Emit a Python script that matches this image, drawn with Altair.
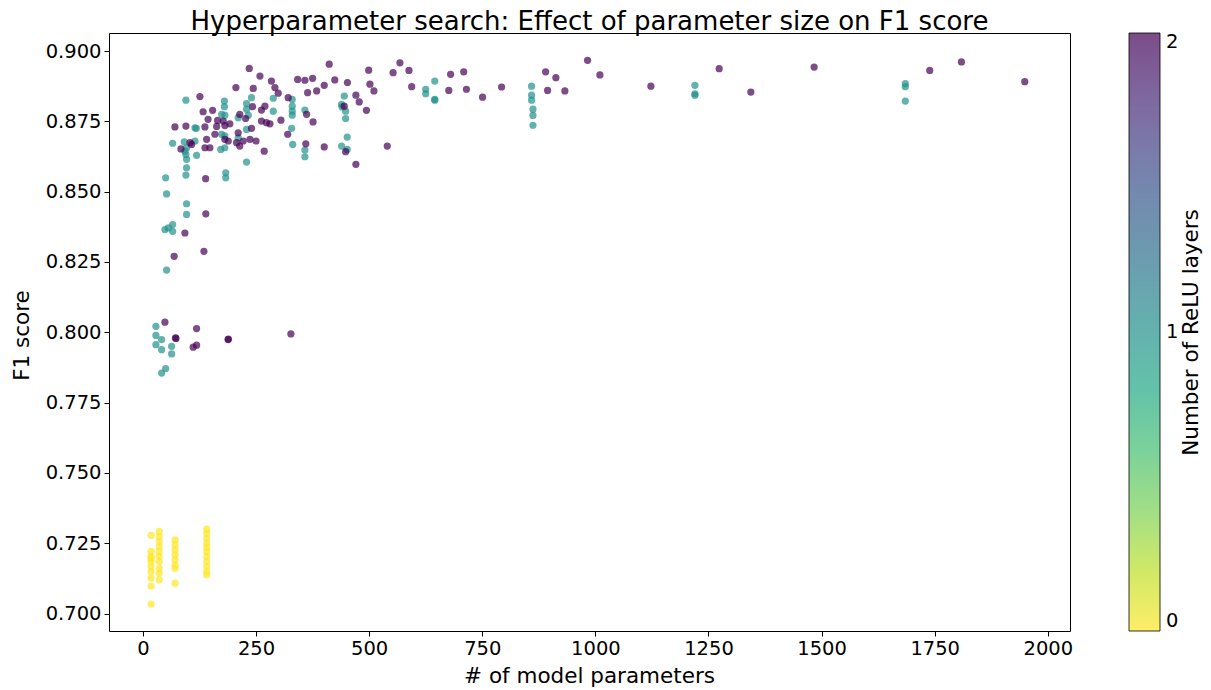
import altair as alt
import pandas as pd

# ---- data ----
# 0 ReLU layers (yellow)
l0_params = [18, 18, 18, 18, 18, 18, 18, 18, 18, 18,
             36, 36, 36, 36, 36, 36, 36, 36, 36, 36,
             71, 71, 71, 71, 71, 71, 71, 71,
             141, 141, 141, 141, 141, 141, 141, 141, 141, 141, 141]
l0_f1 = [0.7278, 0.7221, 0.7203, 0.7195, 0.7185, 0.7167, 0.7149, 0.7126, 0.7098, 0.7034,
         0.7292, 0.7274, 0.7256, 0.7238, 0.7221, 0.7203, 0.7185, 0.7161, 0.7143, 0.7120,
         0.7262, 0.7244, 0.7227, 0.7209, 0.7191, 0.7172, 0.7161, 0.7108,
         0.7300, 0.7285, 0.7267, 0.7249, 0.7235, 0.7221, 0.7203, 0.7185, 0.7167, 0.7149, 0.7138]

# 1 ReLU layer (teal)
l1_params = [96.5, 48.6, 56, 65.6, 65.6, 52.3, 28.7, 28.7, 41.3, 28.7, 41.3, 63.4, 63.4, 41.3, 50.2,
             96.5, 65.6, 91.3, 115, 96.5, 92.8, 95, 96.5, 118.6, 96.5, 95, 50.2, 52.3,
             174, 181, 172, 181, 210.6, 229, 229, 183, 183, 115, 118,
             95, 180, 180, 174, 181, 210.6, 232.7, 240, 229, 229,
             288, 288, 330, 330, 330, 330, 328.6, 358, 445, 439, 440, 448, 448,
             331, 358, 358, 451.5, 439, 451.5,
             625, 625, 645, 645, 645, 859, 859, 859, 862, 862, 862,
             1220, 1220, 1220, 1685, 1685, 1685]
l1_f1 = [0.8419, 0.8365, 0.8371, 0.8383, 0.8359, 0.8221, 0.8021, 0.7989, 0.7974, 0.7956, 0.7938, 0.7950, 0.7923, 0.7855, 0.7871,
         0.8457, 0.8672, 0.8677, 0.8680, 0.8656, 0.8644, 0.8632, 0.8615, 0.8629, 0.8585, 0.8559, 0.8549, 0.8492,
         0.8704, 0.8698, 0.8650, 0.8656, 0.8691, 0.8721, 0.8605, 0.8567, 0.8549, 0.8727, 0.8725,
         0.8825, 0.8822, 0.8802, 0.8775, 0.8772, 0.8763, 0.8772, 0.8834, 0.8813, 0.8793,
         0.8832, 0.8786, 0.8828, 0.8804, 0.8786, 0.8772, 0.8725, 0.8790, 0.8840, 0.8810, 0.8801, 0.8786, 0.8760,
         0.8668, 0.8648, 0.8624, 0.8694, 0.8662, 0.8650,
         0.8864, 0.8848, 0.8893, 0.8825, 0.8828, 0.8875, 0.8843, 0.8825, 0.8793, 0.8771, 0.8736,
         0.8878, 0.8848, 0.8843, 0.8884, 0.8873, 0.8822]

# 2 ReLU layers (purple)
l2_params = [139, 92.8, 69, 134.8, 48.6, 72, 73, 118.6, 111, 118.6, 188, 189, 327,
             70.7, 95, 138.6, 84, 107.6, 104, 140.8, 148, 159, 137, 188.6, 181, 210.6, 207, 214,
             221.7, 236.5, 250, 268,
             320, 360, 400.7, 448, 470.7, 540,
             258.6, 284, 291.7, 299, 269.6, 321, 262, 273, 280.7, 305, 361.7, 376, 342, 358, 375,
             411.7, 364, 384, 400.7, 424, 452, 499, 501.7, 510.5, 470.7, 478, 494, 445, 553, 568,
             235, 205.5, 243.8, 242.4, 262, 126, 133, 154, 144, 165, 177.5, 214, 227, 137, 163, 181,
             192, 240,
             588, 594, 680, 709, 676, 715, 750.7, 792.7, 890, 912.7, 894.4, 932.6, 982.7, 1010, 1122.7,
             1273.6, 1343.6, 1483.5, 1739, 1809, 1949]
l2_f1 = [0.8421, 0.8353, 0.8270, 0.8288, 0.8036, 0.7980, 0.7978, 0.8013, 0.7947, 0.7954, 0.7974, 0.7976, 0.7994,
         0.8730, 0.8733, 0.8546, 0.8652, 0.8668, 0.8674, 0.8686, 0.8656, 0.8704, 0.8656, 0.8680, 0.8686, 0.8709, 0.8674, 0.8662,
         0.8680, 0.8686, 0.8680, 0.8644,
         0.8704, 0.8670, 0.8659, 0.8642, 0.8597, 0.8662,
         0.8911, 0.8893, 0.8870, 0.8850, 0.8804, 0.8834, 0.8751, 0.8745, 0.8741, 0.8754, 0.8775, 0.8748, 0.8899, 0.8896, 0.8903,
         0.8953, 0.8852, 0.8858, 0.8878, 0.8897, 0.8888, 0.8932, 0.8882, 0.8858, 0.8843, 0.8819, 0.8789, 0.8804, 0.8923, 0.8958,
         0.8938, 0.8870, 0.8867, 0.8802, 0.8790, 0.8838, 0.8784, 0.8789, 0.8757, 0.8753, 0.8751, 0.8775, 0.8760, 0.8730, 0.8732, 0.8735,
         0.8741, 0.8725,
         0.8931, 0.8873, 0.8917, 0.8926, 0.8860, 0.8864, 0.8836, 0.8872, 0.8926, 0.8905, 0.8860, 0.8858, 0.8967, 0.8915, 0.8875,
         0.8937, 0.8854, 0.8943, 0.8931, 0.8961, 0.8891]

x_ticks = [0, 250, 500, 750, 1000, 1250, 1500, 1750, 2000]
y_ticks = [0.700, 0.725, 0.750, 0.775, 0.800, 0.825, 0.850, 0.875, 0.900]
legend_ticks = [0, 1, 2]

rows = []
for layers, ps, fs in ((0, l0_params, l0_f1), (1, l1_params, l1_f1), (2, l2_params, l2_f1)):
    for p, f in zip(ps, fs):
        rows.append({"params": p, "f1": f, "relu": layers})
df = pd.DataFrame(rows)

# viridis, reversed (0 -> yellow, 2 -> purple), with alpha 0.7 like the original
VIRIDIS = ["#440154", "#482475", "#414487", "#355f8d", "#2a788e", "#21918c",
           "#22a884", "#44bf70", "#7ad151", "#bddf26", "#fde725"]


def rgba(h, a=0.7):
    h = h.lstrip("#")
    r, g, b = int(h[0:2], 16), int(h[2:4], 16), int(h[4:6], 16)
    return f"rgba({r},{g},{b},{a})"


color_stops = [round(i * 0.2, 2) for i in range(11)]
color_range = [rgba(c) for c in reversed(VIRIDIS)]

FONT = "DejaVu Sans"
TICK_FS = 19.5
LABEL_FS = 21.5

x_enc = alt.X("params:Q",
              scale=alt.Scale(domain=[-75, 2049], nice=False, zero=False),
              axis=alt.Axis(values=x_ticks, title="# of model parameters", format="d",
                            titleX=480, titleY=45, titleBaseline="middle", titleAlign="center"))
y_scale = alt.Scale(domain=[0.6938, 0.9064], nice=False, zero=False)

points = alt.Chart(df).mark_circle(size=52, opacity=1, strokeWidth=0).encode(
    x=x_enc,
    y=alt.Y("f1:Q", scale=y_scale,
            axis=alt.Axis(values=y_ticks, format=".3f", title="F1 score",
                          titleX=-87, titleY=302, titleAngle=270,
                          titleBaseline="middle", titleAlign="center")),
    color=alt.Color("relu:Q",
                    scale=alt.Scale(domain=color_stops, range=color_range, interpolate="rgb"),
                    legend=alt.Legend(orient="none", legendX=1020, legendY=0,
                                      direction="vertical", gradientLength=598,
                                      gradientThickness=31, values=legend_ticks, format="d",
                                      title=None, labelOverlap=False,
                                      labelFontSize=TICK_FS, labelFont=FONT, labelColor="black",
                                      labelOffset=6,
                                      gradientStrokeColor="black", gradientStrokeWidth=0.8)),
)

# right-hand axis that only carries the colour bar's title
cbar_title = alt.Chart(df).mark_circle(opacity=0).encode(
    x=x_enc,
    y=alt.Y("f1:Q", scale=y_scale,
            axis=alt.Axis(orient="right", title="Number of ReLU layers", labels=False,
                          ticks=False, domain=False,
                          titleX=121, titleY=299, titleAngle=270,
                          titleBaseline="middle", titleAlign="center")),
)

chart = alt.layer(points, cbar_title).resolve_axis(y="independent").properties(
    width=961,
    height=598,
    title=alt.Title("Hyperparameter search: Effect of parameter size on F1 score",
                    fontSize=26, font=FONT, fontWeight="normal", color="black",
                    anchor="middle", offset=-2),
    padding={"left": 101, "top": 25, "right": 133, "bottom": 56},
    autosize=alt.AutoSizeParams(type="none"),
).configure_view(
    stroke="black", strokeWidth=1
).configure_axis(
    grid=False, domain=False, tickColor="black", tickSize=5, tickWidth=1,
    labelFont=FONT, labelFontSize=TICK_FS, labelColor="black", labelPadding=3,
    titleFont=FONT, titleFontSize=LABEL_FS, titleFontWeight="normal", titleColor="black"
)

chart.save("out.html", embed_options={"renderer": "svg", "actions": False})
